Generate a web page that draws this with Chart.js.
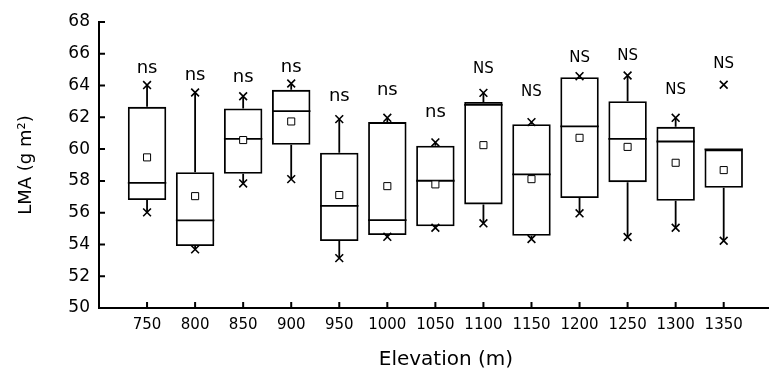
<!DOCTYPE html>
<html>
<head>
<meta charset="utf-8">
<script src="https://cdn.jsdelivr.net/npm/chart.js@4/dist/chart.umd.min.js"></script>
<style>
  html, body { margin: 0; padding: 0; background: #fff; overflow: hidden; }
  #wrap { width: 800px; height: 370px; }
</style>
</head>
<body>
<div id="wrap"><canvas id="c" width="800" height="370"></canvas></div>
<script>
// ---- data ----
const elevations   = [750, 800, 850, 900, 950, 1000, 1050, 1100, 1150, 1200, 1250, 1300, 1350];
const q1           = [56.79, 53.90, 58.45, 60.27, 54.21, 54.59, 55.14, 56.52, 54.55, 56.92, 57.92, 56.75, 57.57];
const q3           = [62.66, 58.55, 62.56, 63.73, 59.77, 61.70, 60.21, 62.97, 61.57, 64.53, 63.02, 61.40, 59.98];
const medians      = [57.88, 55.51, 60.65, 62.39, 56.43, 55.53, 58.01, 62.79, 58.41, 61.43, 60.65, 60.48, 59.98];
const means        = [59.48, 57.04, 60.57, 61.74, 57.11, 57.67, 57.78, 60.25, 58.11, 60.71, 60.14, 59.14, 58.68];
const maxMarks     = [64.03, 63.56, 63.33, 64.13, 61.89, 61.97, 60.42, 63.54, 61.70, 64.59, 64.63, 61.97, 64.05];
const minMarks     = [56.02, 53.69, 57.84, 58.11, 53.14, 54.48, 55.05, 55.33, 54.34, 55.96, 54.47, 55.05, 54.23];
const upperWhisker = [64.03, 63.56, 63.33, 64.13, 61.89, 61.97, 60.42, 63.54, 61.70, 64.59, 64.63, 61.97, 60.00];
const lowerWhisker = [56.02, 53.69, 57.84, 58.11, 53.14, 54.48, 55.05, 55.33, 54.34, 55.96, 54.47, 55.05, 54.23];
const sigLabels    = ['ns', 'ns', 'ns', 'ns', 'ns', 'ns', 'ns', 'NS', 'NS', 'NS', 'NS', 'NS', 'NS'];
const sigLabelAt   = [64.81, 64.33, 64.20, 64.83, 63.05, 63.41, 62.00, 64.77, 63.32, 65.46, 65.61, 63.45, 65.13];
const yTicks       = [50, 52, 54, 56, 58, 60, 62, 64, 66, 68];
const yTitle = 'LMA (g m\u00B2)';
const xTitle = 'Elevation (m)';

const FONT = "'DejaVu Sans', sans-serif";

const boxExtras = {
  id: 'boxExtras',
  afterDatasetDraw(chart, args) {
    if (args.index !== 0) return;
    const ctx = chart.ctx;
    const ys = chart.scales.y;
    const meta = chart.getDatasetMeta(0);
    ctx.save();
    ctx.strokeStyle = '#000';
    ctx.lineWidth = 1.8;
    meta.data.forEach((bar, i) => {
      const half = bar.width / 2;
      const x = bar.x;
      // median
      const ym = ys.getPixelForValue(medians[i]);
      ctx.beginPath();
      ctx.moveTo(x - half, ym); ctx.lineTo(x + half, ym);
      ctx.stroke();
      // whiskers
      ctx.beginPath();
      ctx.moveTo(x, ys.getPixelForValue(q3[i]));
      ctx.lineTo(x, ys.getPixelForValue(upperWhisker[i]));
      ctx.moveTo(x, ys.getPixelForValue(q1[i]));
      ctx.lineTo(x, ys.getPixelForValue(lowerWhisker[i]));
      ctx.stroke();
    });
    ctx.restore();
  },
  afterDraw(chart) {
    const ctx = chart.ctx;
    const xs = chart.scales.x, ys = chart.scales.y;
    const area = chart.chartArea;
    ctx.save();
    ctx.strokeStyle = '#000';
    ctx.lineWidth = 2;
    // inward tick marks
    ctx.beginPath();
    yTicks.forEach(v => {
      const y = ys.getPixelForValue(v);
      ctx.moveTo(area.left, y); ctx.lineTo(area.left + 6, y);
    });
    elevations.forEach(v => {
      const x = xs.getPixelForValue(v);
      ctx.moveTo(x, area.bottom); ctx.lineTo(x, area.bottom - 6);
    });
    ctx.stroke();
    // significance labels
    ctx.fillStyle = '#000';
    ctx.textAlign = 'center';
    ctx.textBaseline = 'alphabetic';
    elevations.forEach((v, i) => {
      ctx.font = (sigLabels[i] === 'ns' ? '18px ' : '15px ') + FONT;
      ctx.fillText(sigLabels[i], xs.getPixelForValue(v), ys.getPixelForValue(sigLabelAt[i]));
    });
    ctx.restore();
  }
};

new Chart(document.getElementById('c'), {
  type: 'bar',
  data: {
    datasets: [
      {
        type: 'bar',
        data: elevations.map((e, i) => ({ x: e, y: [q1[i], q3[i]] })),
        backgroundColor: 'rgba(255,255,255,0)',
        borderColor: '#000',
        borderWidth: 1.8,
        borderSkipped: false,
        categoryPercentage: 1.0,
        barPercentage: 0.8,
        order: 3
      },
      {
        type: 'scatter',
        data: elevations.map((e, i) => ({ x: e, y: means[i] })),
        pointStyle: 'rect',
        pointRadius: 5,
        pointBackgroundColor: '#fff',
        pointBorderColor: '#000',
        pointBorderWidth: 1,
        order: 1
      },
      {
        type: 'scatter',
        data: elevations.flatMap((e, i) => [{ x: e, y: maxMarks[i] }, { x: e, y: minMarks[i] }]),
        pointStyle: 'crossRot',
        pointRadius: 5.5,
        pointBorderColor: '#000',
        pointBorderWidth: 1.6,
        order: 2
      }
    ]
  },
  options: {
    responsive: false,
    animation: false,
    events: [],
    layout: { padding: { top: 22, right: 0, left: 0, bottom: 0 } },
    plugins: { legend: { display: false }, tooltip: { enabled: false } },
    scales: {
      x: {
        type: 'linear',
        min: 700,
        max: 1422,
        offset: false,
        afterFit(s) { s.height = 62; },
        afterBuildTicks(s) { s.ticks = elevations.map(v => ({ value: v })); },
        grid: { display: false, drawTicks: false },
        border: { display: true, color: '#000', width: 2 },
        ticks: {
          autoSkip: false, maxRotation: 0, padding: 8,
          color: '#000', font: { family: FONT, size: 15 },
          callback: v => String(v)
        },
        title: {
          display: true, text: xTitle, color: '#000',
          font: { family: FONT, size: 20, lineHeight: 1 },
          padding: { top: 0, bottom: 0 }
        }
      },
      y: {
        type: 'linear',
        min: 50,
        max: 68,
        afterFit(s) { s.width = 99; },
        afterBuildTicks(s) { s.ticks = yTicks.map(v => ({ value: v })); },
        grid: { display: false, drawTicks: false },
        border: { display: true, color: '#000', width: 2 },
        ticks: {
          padding: 9, color: '#000', font: { family: FONT, size: 17 },
          callback: v => String(v)
        },
        title: {
          display: true, text: yTitle, color: '#000',
          font: { family: FONT, size: 18, lineHeight: 1.2 },
          padding: { top: 16, bottom: 0 }
        }
      }
    }
  },
  plugins: [boxExtras]
});
</script>
</body>
</html>
